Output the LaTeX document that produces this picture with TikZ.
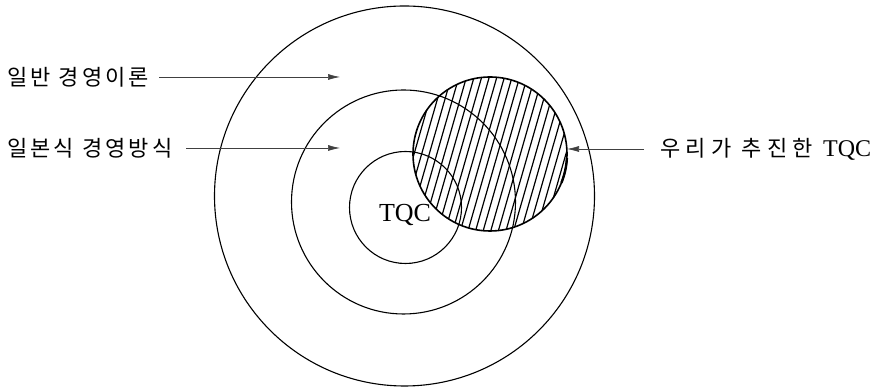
\documentclass[tikz,border=0pt]{standalone}
\usepackage{fontspec}
\setmainfont{Liberation Serif}
\newfontfamily\kr[LetterSpace=14]{Noto Sans CJK KR}
\usetikzlibrary{arrows.meta}

\begin{document}
\begin{tikzpicture}[
x=1pt,y=1pt,
ring/.style={circle,draw,line width=1.1pt,inner sep=0pt,outer sep=0pt},
lbl/.style={anchor=west,inner sep=0pt,font=\kr\fontsize{22}{24}\selectfont},
arrow/.style={-{Latex[length=12pt,width=6pt]},line width=0.6pt,draw=black!75}
]
\useasboundingbox (0,0) rectangle (876,387);
\node[ring,minimum size=380pt] (outer) at (404.5,191) {};
\node[ring,minimum size=224pt] (middle) at (403.5,185) {};
\node[ring,minimum size=112pt] (inner) at (405.5,179.5) {};
% hatched circle
\begin{scope}
\clip (490,233) circle[radius=77];
\begin{scope}[shift={(490,233)},rotate=-16]
\foreach \i in {-11,...,11} \draw[line width=1.2pt] (\i*7.3,-90) -- (\i*7.3,90);
\end{scope}
\end{scope}
\node[ring,minimum size=154pt,line width=1.6pt] (hatch) at (490,233) {};
\draw[line width=2.4pt] (hatch.-3) arc[start angle=-3,end angle=-22,radius=77];
\node (tqc) at (405,172) {\fontsize{26}{28}\selectfont TQC};
% labels and arrows
\node[lbl] (gen) at (7,310) {일반 경영이론};
\node[lbl] (jap) at (7,239) {일본식 경영방식};
\node[lbl] (our) at (660,238) {\addfontfeature{LetterSpace=24}우리가 추진한 {\rmfamily\fontsize{24}{26}\selectfont TQC}};
\coordinate (genTip) at (340,310);
\coordinate (japTip) at (340,239);
\draw[arrow] ([xshift=10pt]gen.east) -- (genTip);
\draw[arrow] ([xshift=14pt]jap.east) -- (japTip);
\draw[arrow] ([xshift=-16pt]our.west) -- (our.west -| hatch.east);
\end{tikzpicture}
\end{document}
